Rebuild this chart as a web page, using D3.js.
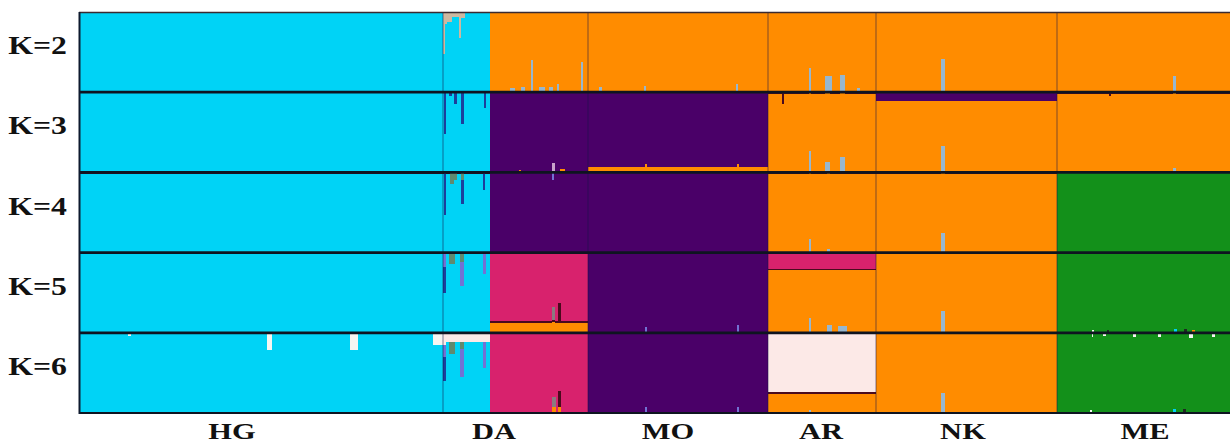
<!DOCTYPE html>
<html><head><meta charset="utf-8">
<script src="https://cdn.jsdelivr.net/npm/d3@7"></script>
<style>html,body{margin:0;padding:0;background:#fff;}svg{display:block;}</style>
</head><body>
<svg id="chart" width="1230" height="446"></svg>
<script>
// ---- data ----
const groups = ["HG", "DA", "MO", "AR", "NK", "ME"];
const groupSizes = [364, 145, 180, 108, 181, 173];      // individuals per population
const groupLabelAt = [153, 415, 589, 742, 884, 1066];   // individual index under each label
const kLabels = ["K=2", "K=3", "K=4", "K=5", "K=6"];
// segments: [firstIndividual, endIndividual, [[cluster, proportion], ...] top->bottom]
const k2 = [
  [0,411,[["C",1]]],[411,1151,[["O",1]]],
  [364,366,[["T",0.52],["C",0.48]]],[366,368,[["T",0.15],["C",0.85]]],[368,373,[["T",0.12],["C",0.88]]],
  [373,380,[["T",0.06],["C",0.94]]],[380,382,[["T",0.32],["C",0.68]]],[382,386,[["T",0.08],["C",0.92]]],
  [431,436,[["O",0.95],["S",0.05]]],[442,446,[["O",0.94],["S",0.06]]],[452,454,[["O",0.6],["S",0.4]]],
  [460,466,[["O",0.94],["S",0.06]]],[470,474,[["O",0.93],["S",0.07]]],[478,480,[["O",0.9],["S",0.1]]],
  [502,504,[["O",0.62],["S",0.38]]],[520,523,[["O",0.94],["S",0.06]]],[565,567,[["O",0.92],["S",0.08]]],
  [657,659,[["O",0.9],["S",0.1]]],[730,732,[["O",0.7],["S",0.3]]],[746,753,[["O",0.8],["S",0.2]]],
  [761,766,[["O",0.78],["S",0.22]]],[778,781,[["O",0.95],["S",0.05]]],[862,866,[["O",0.58],["S",0.42]]],
  [1094,1097,[["O",0.8],["S",0.2]]]
];
const k3 = [
  [0,411,[["D",0.015],["C",0.985]]],[411,509,[["P",1]]],[509,689,[["P",0.93],["O",0.07]]],
  [689,797,[["D",0.02],["O",0.98]]],[797,978,[["P",0.11],["O",0.89]]],[978,1151,[["D",0.02],["O",0.98]]],
  [365,367,[["N",0.52],["C",0.48]]],[370,373,[["N",0.05],["C",0.95]]],[375,378,[["N",0.15],["C",0.85]]],
  [382,385,[["N",0.4],["C",0.6]]],[405,407,[["N",0.2],["C",0.8]]],
  [440,442,[["P",0.97],["O",0.03]]],[473,476,[["P",0.88],["Lp",0.12]]],[481,486,[["P",0.96],["O",0.04]]],
  [566,568,[["P",0.9],["O",0.1]]],[658,660,[["P",0.9],["O",0.1]]],
  [703,705,[["D",0.15],["O",0.85]]],[730,732,[["O",0.73],["S",0.27]]],[746,751,[["O",0.87],["S",0.13]]],
  [761,766,[["O",0.81],["S",0.19]]],[862,866,[["P",0.11],["O",0.56],["S",0.33]]],
  [1030,1032,[["D",0.05],["O",0.95]]],[1094,1097,[["O",0.95],["S",0.05]]]
];
const k4 = [
  [0,411,[["D",0.015],["C",0.985]]],[411,689,[["P",1]]],[689,978,[["D",0.015],["O",0.985]]],[978,1151,[["G",1]]],
  [365,367,[["N",0.53],["C",0.47]]],[371,375,[["R",0.15],["C",0.85]]],[375,378,[["R",0.1],["C",0.9]]],
  [382,385,[["R",0.1],["N",0.3],["C",0.6]]],[404,406,[["N",0.22],["C",0.78]]],
  [473,475,[["V",0.1],["P",0.9]]],
  [730,732,[["O",0.83],["S",0.17]]],[748,751,[["O",0.95],["S",0.05]]],[862,866,[["O",0.76],["S",0.24]]]
];
const k5 = [
  [0,411,[["D",0.015],["C",0.985]]],[411,509,[["M",0.85],["D",0.03],["O",0.12]]],[509,689,[["P",1]]],
  [689,797,[["M",0.2],["D",0.02],["O",0.78]]],[797,978,[["D",0.015],["O",0.985]]],[978,1151,[["G",1]]],
  [364,367,[["V",0.18],["N",0.32],["C",0.5]]],[370,376,[["R",0.14],["C",0.86]]],
  [381,385,[["R",0.12],["V",0.3],["C",0.58]]],[404,407,[["V",0.27],["C",0.73]]],
  [473,476,[["M",0.68],["Gy",0.16],["D",0.03],["O",0.13]]],[479,482,[["M",0.63],["D",0.25],["O",0.12]]],
  [566,568,[["P",0.93],["V",0.07]]],[658,660,[["P",0.9],["V",0.1]]],
  [730,732,[["M",0.2],["D",0.02],["O",0.59],["S",0.19]]],[748,753,[["M",0.2],["D",0.02],["O",0.68],["S",0.1]]],
  [759,768,[["M",0.2],["D",0.02],["O",0.7],["S",0.08]]],[862,866,[["D",0.015],["O",0.71],["S",0.27]]],
  [1013,1015,[["G",0.96],["W",0.04]]],[1028,1030,[["G",0.96],["Dk",0.04]]],[1095,1098,[["G",0.95],["C",0.05]]],
  [1105,1108,[["G",0.95],["Dk",0.05]]],[1113,1116,[["G",0.96],["O",0.04]]]
];
const k6 = [
  [0,364,[["C",1]]],[364,411,[["L",0.12],["C",0.88]]],[411,509,[["M",1]]],[509,689,[["P",1]]],
  [689,797,[["L",0.74],["D",0.02],["O",0.24]]],[797,978,[["D",0.015],["O",0.985]]],[978,1151,[["G",1]]],
  [49,52,[["W",0.04],["C",0.96]]],[188,193,[["W",0.22],["C",0.78]]],[271,279,[["W",0.22],["C",0.78]]],
  [354,364,[["W",0.15],["C",0.85]]],
  [364,367,[["L",0.15],["V",0.15],["N",0.3],["C",0.4]]],[370,376,[["L",0.12],["R",0.14],["C",0.74]]],
  [381,385,[["L",0.12],["R",0.08],["V",0.35],["C",0.45]]],[404,407,[["L",0.12],["V",0.32],["C",0.56]]],
  [473,477,[["M",0.8],["Gy",0.13],["O",0.07]]],[479,482,[["M",0.72],["D",0.2],["O",0.08]]],
  [566,568,[["P",0.93],["V",0.07]]],[658,660,[["P",0.92],["V",0.08]]],
  [730,732,[["L",0.74],["D",0.02],["O",0.2],["S",0.04]]],[862,866,[["D",0.015],["O",0.735],["S",0.25]]],
  [1011,1014,[["W",0.05],["G",0.95]]],[1024,1027,[["W",0.04],["G",0.96]]],[1054,1057,[["W",0.05],["G",0.95]]],
  [1079,1082,[["W",0.05],["G",0.95]]],[1110,1114,[["W",0.07],["G",0.93]]],[1133,1136,[["W",0.05],["G",0.95]]],
  [1011,1013,[["G",0.96],["W",0.04]]],[1094,1097,[["G",0.95],["C",0.05]]],[1104,1107,[["G",0.95],["Dk",0.05]]]
];
const panels = [k2, k3, k4, k5, k6];

// ---- styles ----
const palette = {
  C:"#00D3F6", O:"#FF8C00", P:"#4A0068", M:"#D8226D", G:"#13901A", L:"#FCE9E7",
  S:"#97B7CF", T:"#CDB8A0", N:"#1C3F9C", D:"#4A0A1E", R:"#5F8A70", V:"#7272D4",
  Gy:"#8A7A80", W:"#F6F6F2", Lp:"#C9A3CC", Dk:"#1E2A20"
};

const svg = d3.select("#chart");
const total = d3.sum(groupSizes);
const x = d3.scaleLinear().domain([0, total]).range([79, 1230]);
const row = d3.scaleBand().domain(kLabels).range([12, 413]).padding(0);
const frac = d3.scaleLinear().domain([0, 1]).range([0, row.bandwidth()]);
const bounds = d3.cumsum(groupSizes);

panels.forEach((segs, i) => {
  const g = svg.append("g").attr("transform", `translate(0,${row(kLabels[i])})`);
  segs.forEach(([a, b, comp]) => {
    let acc = 0;
    comp.forEach(([c, p]) => {
      g.append("rect")
        .attr("x", x(a)).attr("width", x(b) - x(a))
        .attr("y", frac(acc)).attr("height", frac(p) + 0.4)
        .attr("fill", palette[c]).attr("shape-rendering", "crispEdges");
      acc += p;
    });
  });
  // population separators
  bounds.slice(0, -1).forEach(bd => {
    g.append("line").attr("x1", x(bd)).attr("x2", x(bd))
      .attr("y1", 0).attr("y2", row.bandwidth())
      .attr("stroke", "rgba(20,20,70,0.45)").attr("stroke-width", 1.2);
  });
});

// horizontal separators & frame
kLabels.slice(1).forEach(k => {
  svg.append("line").attr("x1", 79).attr("x2", 1230).attr("y1", row(k)).attr("y2", row(k))
    .attr("stroke", "#0E1420").attr("stroke-width", 2.8);
});
svg.append("line").attr("x1", 79).attr("x2", 1230).attr("y1", 12.5).attr("y2", 12.5)
  .attr("stroke", "#3A2A30").attr("stroke-width", 1.4);
svg.append("line").attr("x1", 79).attr("x2", 1230).attr("y1", 413).attr("y2", 413)
  .attr("stroke", "#0E1420").attr("stroke-width", 2);
svg.append("line").attr("x1", 79.5).attr("x2", 79.5).attr("y1", 12).attr("y2", 414)
  .attr("stroke", "#0E1A2E").attr("stroke-width", 2);

const font = "'Liberation Serif','Times New Roman',serif";
function stretch(t) {
  t.each(function () {
    const len = this.getComputedTextLength();
    d3.select(this).attr("textLength", len * 1.27).attr("lengthAdjust", "spacingAndGlyphs");
  });
}
svg.selectAll("text.k").data(kLabels).join("text").attr("class", "k")
  .attr("x", 67).attr("y", d => row(d) + row.bandwidth() / 2 + 2)
  .attr("text-anchor", "end").attr("font-family", font).attr("font-weight", "bold")
  .attr("font-size", 25).attr("fill", "#111").text(d => d).call(stretch);
svg.selectAll("text.grp").data(groups).join("text").attr("class", "grp")
  .attr("x", (d, i) => x(groupLabelAt[i])).attr("y", 439)
  .attr("text-anchor", "middle").attr("font-family", font).attr("font-weight", "bold")
  .attr("font-size", 24).attr("fill", "#111").text(d => d).call(stretch);
</script>
</body></html>
